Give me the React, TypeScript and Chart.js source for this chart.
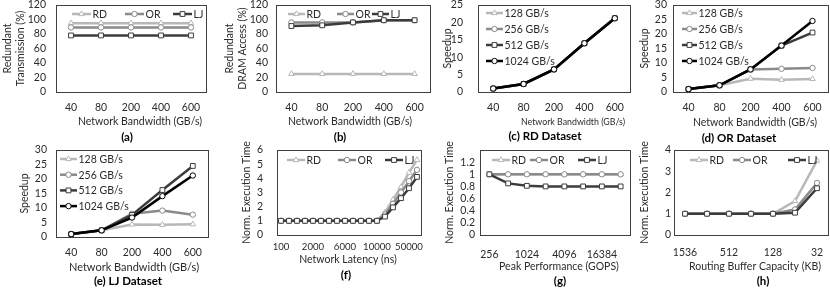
import React, { useEffect, useRef } from 'react';
import { Chart, registerables } from 'chart.js';

Chart.register(...registerables);

const FONT = 'Lato, "Open Sans", "DejaVu Sans", sans-serif';
const TEXT = '#2b2b2b';

// ---------------- data ----------------
const bandwidthLabels = ['40', '80', '200', '400', '600'];
const latencyLabels = ['100', '500', '1000', '1500', '2000', '3000', '4000', '5000', '6000', '7000', '8000', '9000', '10000', '20000', '30000', '40000', '50000', '60000'];
const peakLabels = ['256', '512', '1024', '2048', '4096', '8192', '16384', '32768'];
const bufferLabels = ['1536', '1024', '512', '256', '128', '64', '32'];

const datasetNames = ['RD', 'OR', 'LJ'];
const hbmNames = ['128 GB/s', '256 GB/s', '512 GB/s', '1024 GB/s'];

// (a) Redundant transmission (%)
const txRD = [95, 95, 95, 95, 95];
const txOR = [89, 89, 89, 89, 89];
const txLJ = [78, 78, 78, 78, 78];

// (b) Redundant DRAM access (%)
const dramRD = [25, 25, 25, 25, 25];
const dramOR = [96, 96, 96, 99, 99];
const dramLJ = [91, 92, 96, 99, 99];

// (c) RD dataset speedup
const rd128 = [1, 2.3, 6.5, 14, 21.2];
const rd256 = [1, 2.3, 6.5, 14, 21.2];
const rd512 = [1, 2.3, 6.5, 14, 21.2];
const rd1024 = [1, 2.3, 6.5, 14, 21.2];

// (d) OR dataset speedup
const or128 = [1, 2.3, 4.6, 4.2, 4.5];
const or256 = [1, 2.3, 7.8, 8.0, 8.3];
const or512 = [1, 2.3, 7.8, 16, 20.5];
const or1024 = [1, 2.3, 7.8, 16, 24.5];

// (e) LJ dataset speedup
const lj128 = [1, 2.3, 4.3, 4.2, 4.4];
const lj256 = [1, 2.3, 8.0, 9.1, 7.7];
const lj512 = [1, 2.3, 7.6, 16.2, 24.5];
const lj1024 = [1, 2.3, 6.7, 14.1, 21.2];

// (f) Norm. execution time vs network latency
const latRD = [1, 1, 1, 1, 1, 1, 1, 1, 1, 1, 1, 1, 1, 1.6, 2.5, 3.4, 4.4, 5.3];
const latOR = [1, 1, 1, 1, 1, 1, 1, 1, 1, 1, 1, 1, 1, 1.45, 2.2, 3.0, 3.8, 4.6];
const latLJ = [1, 1, 1, 1, 1, 1, 1, 1, 1, 1, 1, 1, 1, 1.3, 1.95, 2.6, 3.3, 4.1];

// (g) Norm. execution time vs peak performance
const peakRD = [1, 1, 1, 1, 1, 1, 1, 1];
const peakOR = [1, 1, 1, 1, 1, 1, 1, 1];
const peakLJ = [1, 0.85, 0.81, 0.8, 0.8, 0.8, 0.8, 0.8];

// (h) Norm. execution time vs routing buffer capacity
const bufRD = [1, 1, 1, 1, 1, 1.6, 3.5];
const bufOR = [1, 1, 1, 1, 1, 1.2, 2.45];
const bufLJ = [1, 1, 1, 1, 1, 1.05, 2.2];

// ---------------- styles ----------------
type SeriesStyle = { color: string; point: string; radius: number; width: number };
const STYLES: SeriesStyle[] = [
  { color: '#b8b8b8', point: 'triangle', radius: 3.2, width: 2.5 },
  { color: '#8a8a8a', point: 'circle', radius: 2.7, width: 2.5 },
  { color: '#3c3c3c', point: 'rect', radius: 3.4, width: 2.5 },
  { color: '#000000', point: 'circle', radius: 2.7, width: 2.5 },
];

type Sub = {
  row: number;
  box: [number, number, number, number];
  labels: string[];
  every: number;
  names: string[];
  values: number[][];
  yMax: number;
  yStep: number;
  yShowMax: number;
  yTitle: string | string[];
  yTitleX: number;
  tickGap: number;
  xTickSize: number;
  xLabelY: number;
  xTitle: string;
  xTitleX: number;
  xTitleY: number;
  xTitleSize: number;
  caption: string;
  captionX: number;
  captionY: number;
  legend: [number, number][];
  legendLine: number;
};

const Y_TICK_SIZE = 10.5;
const YTITLE_SIZE = 10.5;
const CAPTION_SIZE = 11.5;
const LEGEND_SIZE = 10.5;

const vLegend = (x: number, y: number, dy: number): [number, number][] => [0, 1, 2, 3].map((i) => [x, y + i * dy]);

const SUBPLOTS: Sub[] = [
  {
    row: 0, box: [56, 5, 206, 92], labels: bandwidthLabels, every: 1, names: datasetNames,
    values: [txRD, txOR, txLJ], yMax: 120, yStep: 20, yShowMax: 120,
    yTitle: ['Redundant', 'Transmission (%)'], yTitleX: 8, tickGap: 10, xTickSize: 10.5,
    xLabelY: 108, xTitle: 'Network Bandwidth (GB/s)', xTitleX: 140, xTitleY: 122, xTitleSize: 10.5,
    caption: '(a)', captionX: 127, captionY: 137,
    legend: [[72, 14], [125, 14], [173, 14]], legendLine: 19,
  },
  {
    row: 0, box: [276, 5, 430, 92], labels: bandwidthLabels, every: 1, names: datasetNames,
    values: [dramRD, dramOR, dramLJ], yMax: 120, yStep: 20, yShowMax: 120,
    yTitle: ['Redundant', 'DRAM Access (%)'], yTitleX: 230, tickGap: 8, xTickSize: 10.5,
    xLabelY: 108, xTitle: 'Network Bandwidth (GB/s)', xTitleX: 350, xTitleY: 122, xTitleSize: 10.5,
    caption: '(b)', captionX: 340, captionY: 137,
    legend: [[288, 14], [337, 14], [372, 14]], legendLine: 17,
  },
  {
    row: 0, box: [478, 5, 630, 92], labels: bandwidthLabels, every: 1, names: hbmNames,
    values: [rd128, rd256, rd512, rd1024], yMax: 25, yStep: 5, yShowMax: 25,
    yTitle: 'Speedup', yTitleX: 448, tickGap: 15, xTickSize: 10.5,
    xLabelY: 108, xTitle: 'Network Bandwidth (GB/s)', xTitleX: 573, xTitleY: 122, xTitleSize: 8.8,
    caption: '(c) RD Dataset', captionX: 545, captionY: 136,
    legend: vLegend(486, 13, 16), legendLine: 17,
  },
  {
    row: 0, box: [673, 5, 828, 92], labels: bandwidthLabels, every: 1, names: hbmNames,
    values: [or128, or256, or512, or1024], yMax: 30, yStep: 5, yShowMax: 30,
    yTitle: 'Speedup', yTitleX: 645, tickGap: 6, xTickSize: 10.5,
    xLabelY: 108, xTitle: 'Network Bandwidth (GB/s)', xTitleX: 755, xTitleY: 123, xTitleSize: 10.5,
    caption: '(d) OR Dataset', captionX: 739, captionY: 138,
    legend: vLegend(682, 13, 16), legendLine: 15,
  },
  {
    row: 1, box: [56, 150, 208, 237], labels: bandwidthLabels, every: 1, names: hbmNames,
    values: [lj128, lj256, lj512, lj1024], yMax: 30, yStep: 5, yShowMax: 30,
    yTitle: 'Speedup', yTitleX: 25, tickGap: 9, xTickSize: 10.5,
    xLabelY: 253, xTitle: 'Network Bandwidth (GB/s)', xTitleX: 134, xTitleY: 267, xTitleSize: 11,
    caption: '(e) LJ Dataset', captionX: 128, captionY: 281,
    legend: vLegend(60, 159, 15.7), legendLine: 17,
  },
  {
    row: 1, box: [277, 150, 421, 235], labels: latencyLabels, every: 4, names: datasetNames,
    values: [latRD, latOR, latLJ], yMax: 6, yStep: 1, yShowMax: 6,
    yTitle: 'Norm. Execution Time', yTitleX: 247, tickGap: 14, xTickSize: 9.6,
    xLabelY: 247, xTitle: 'Network Latency (ns)', xTitleX: 348, xTitleY: 260, xTitleSize: 10.5,
    caption: '(f)', captionX: 346, captionY: 275,
    legend: [[287, 160], [338, 160], [385, 160]], legendLine: 18,
  },
  {
    row: 1, box: [480, 150, 630, 235], labels: peakLabels, every: 2, names: datasetNames,
    values: [peakRD, peakOR, peakLJ], yMax: 1.4, yStep: 0.2, yShowMax: 1.2,
    yTitle: 'Norm. Execution Time', yTitleX: 450, tickGap: 5, xTickSize: 10.5,
    xLabelY: 255, xTitle: 'Peak Performance (GOPS)', xTitleX: 559, xTitleY: 267, xTitleSize: 10.5,
    caption: '(g)', captionX: 560, captionY: 281,
    legend: [[492, 160], [530, 160], [578, 160]], legendLine: 18,
  },
  {
    row: 1, box: [674, 150, 828, 235], labels: bufferLabels, every: 2, names: datasetNames,
    values: [bufRD, bufOR, bufLJ], yMax: 4, yStep: 1, yShowMax: 4,
    yTitle: 'Norm. Execution Time', yTitleX: 645, tickGap: 3, xTickSize: 10.5,
    xLabelY: 253, xTitle: 'Routing Buffer Capacity (KB)', xTitleX: 755, xTitleY: 267, xTitleSize: 10.5,
    caption: '(h)', captionX: 763, captionY: 281,
    legend: [[690, 160], [733, 160], [788, 160]], legendLine: 18,
  },
];

function geom(sp: Sub) {
  const lhY = YTITLE_SIZE * 1.2;
  const cx = Math.floor(sp.yTitleX - lhY / 2 - 1);
  const right = Math.min(sp.box[2] + 4, 830);
  const cy = sp.row === 0 ? 0 : 140;
  const ch = sp.row === 0 ? 146 : 151;
  return { cx, cy, cw: right - cx, ch };
}

function drawMarker(ctx: CanvasRenderingContext2D, st: SeriesStyle, x: number, y: number) {
  const r = st.radius;
  ctx.save();
  ctx.fillStyle = '#ffffff';
  ctx.strokeStyle = st.color;
  ctx.lineWidth = 1;
  ctx.beginPath();
  if (st.point === 'triangle') {
    let rad = 0;
    const step = (2 * Math.PI) / 3;
    ctx.moveTo(x + Math.sin(rad) * r, y - Math.cos(rad) * r);
    rad += step;
    ctx.lineTo(x + Math.sin(rad) * r, y - Math.cos(rad) * r);
    rad += step;
    ctx.lineTo(x + Math.sin(rad) * r, y - Math.cos(rad) * r);
    ctx.closePath();
  } else if (st.point === 'rect') {
    const s = r * Math.SQRT1_2;
    ctx.rect(x - s, y - s, 2 * s, 2 * s);
  } else {
    ctx.arc(x, y, r, 0, Math.PI * 2);
  }
  ctx.fill();
  ctx.stroke();
  ctx.restore();
}

function makeChart(canvas: HTMLCanvasElement, sp: Sub) {
  const { cx, cy, cw, ch } = geom(sp);
  const [bl, bt, br, bb] = sp.box;
  const lhTick = sp.xTickSize * 1.2;
  const lhY = YTITLE_SIZE * 1.2;
  const n = sp.values.length;

  const datasets = sp.values.map((vals, i) => {
    const st = STYLES[i];
    return {
      label: sp.names[i],
      data: vals,
      order: n - i,
      borderColor: st.color,
      backgroundColor: st.color,
      borderWidth: st.width,
      pointStyle: st.point,
      pointRadius: st.radius,
      pointBackgroundColor: '#ffffff',
      pointBorderColor: st.color,
      pointBorderWidth: 1,
      tension: 0,
      fill: false,
    };
  });

  const decor = {
    id: 'decor',
    beforeDatasetsDraw(chart: any) {
      const { ctx, chartArea: a } = chart;
      ctx.save();
      ctx.strokeStyle = '#404040';
      ctx.lineWidth = 1;
      ctx.strokeRect(Math.round(a.left) + 0.5, Math.round(a.top) + 0.5, Math.round(a.right - a.left), Math.round(a.bottom - a.top));
      ctx.restore();
    },
    afterDraw(chart: any) {
      const ctx: CanvasRenderingContext2D = chart.ctx;
      ctx.save();
      ctx.font = `${LEGEND_SIZE}px ${FONT}`;
      ctx.textBaseline = 'middle';
      ctx.textAlign = 'left';
      sp.names.forEach((name, i) => {
        const st = STYLES[i];
        const [lx, ly] = sp.legend[i];
        const x = lx - cx;
        const y = ly - cy;
        ctx.strokeStyle = st.color;
        ctx.lineWidth = st.width;
        ctx.beginPath();
        ctx.moveTo(x, y);
        ctx.lineTo(x + sp.legendLine, y);
        ctx.stroke();
        drawMarker(ctx, st, x + sp.legendLine / 2, y);
        ctx.fillStyle = TEXT;
        ctx.fillText(name, x + sp.legendLine + 1.5, y + 0.5);
      });
      ctx.textAlign = 'center';
      ctx.fillStyle = TEXT;
      ctx.font = `${sp.xTitleSize}px ${FONT}`;
      ctx.fillText(sp.xTitle, sp.xTitleX - cx, sp.xTitleY - cy);
      ctx.font = `bold ${CAPTION_SIZE}px ${FONT}`;
      ctx.fillStyle = '#000000';
      ctx.fillText(sp.caption, sp.captionX - cx, sp.captionY - cy);
      ctx.restore();
    },
  };

  return new Chart(canvas, {
    type: 'line',
    data: { labels: sp.labels, datasets: datasets as any },
    options: {
      animation: false,
      responsive: false,
      maintainAspectRatio: false,
      devicePixelRatio: 1,
      events: [],
      layout: { autoPadding: false, padding: { left: 0, top: bt - cy, right: cx + cw - br, bottom: 0 } },
      plugins: { legend: { display: false }, tooltip: { enabled: false }, title: { display: false } },
      scales: {
        x: {
          type: 'category',
          offset: true,
          grid: { display: false, drawTicks: false },
          border: { display: false },
          ticks: {
            autoSkip: false,
            maxRotation: 0,
            minRotation: 0,
            padding: sp.xLabelY - bb - lhTick / 2,
            font: { family: FONT, size: sp.xTickSize },
            color: TEXT,
            callback: (_v: any, i: number) => (i % sp.every === 0 ? sp.labels[i] : ''),
          },
          afterFit: (s: any) => {
            s.height = cy + ch - bb;
            s.paddingLeft = 0;
            s.paddingRight = 0;
          },
        },
        y: {
          type: 'linear',
          min: 0,
          max: sp.yMax,
          grid: { display: false, drawTicks: false },
          border: { display: false },
          ticks: {
            autoSkip: false,
            stepSize: sp.yStep,
            padding: sp.tickGap,
            font: { family: FONT, size: Y_TICK_SIZE },
            color: TEXT,
            callback: (v: any) => (Number(v) > sp.yShowMax + 1e-9 ? '' : String(Math.round(Number(v) * 10) / 10)),
          },
          title: {
            display: true,
            text: sp.yTitle as any,
            font: { family: FONT, size: YTITLE_SIZE },
            color: TEXT,
            padding: { top: sp.yTitleX - cx - lhY / 2, bottom: 0 },
          },
          afterFit: (s: any) => {
            s.width = bl - cx;
            s.paddingTop = 0;
            s.paddingBottom = 0;
          },
        },
      },
    } as any,
    plugins: [decor],
  });
}

export default function App() {
  const refs = useRef<(HTMLCanvasElement | null)[]>([]);
  useEffect(() => {
    const charts = SUBPLOTS.map((sp, i) => makeChart(refs.current[i] as HTMLCanvasElement, sp));
    return () => charts.forEach((c) => c.destroy());
  }, []);
  return (
    <div style={{ position: 'absolute', left: 0, top: 0, width: 830, height: 291, background: '#ffffff', overflow: 'hidden' }}>
      {SUBPLOTS.map((sp, i) => {
        const g = geom(sp);
        return (
          <canvas
            key={i}
            ref={(el) => {
              refs.current[i] = el;
            }}
            width={g.cw}
            height={g.ch}
            style={{ position: 'absolute', left: g.cx, top: g.cy, width: g.cw, height: g.ch, display: 'block' }}
          />
        );
      })}
    </div>
  );
}
